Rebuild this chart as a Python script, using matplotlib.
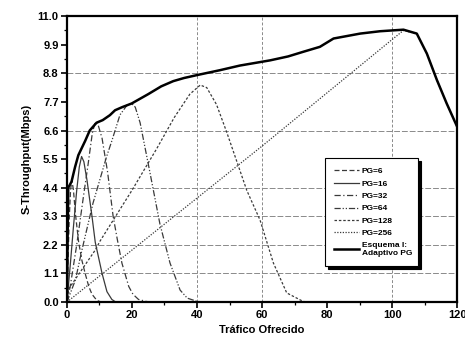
import numpy as np
import matplotlib
matplotlib.use("Agg")
import matplotlib.pyplot as plt
from matplotlib.ticker import MultipleLocator, FixedLocator

plt.rcParams["font.family"] = ["Liberation Sans", "DejaVu Sans"]

# (offered traffic, throughput in Mbps)
PG6_X = [0, 0.3, 0.7, 1.1, 1.5, 2.0, 2.6, 3.6, 4.6, 5.6, 6.7, 7.7, 8.7, 9.5, 10.5]
PG6_Y = [0, 1.5, 3.2, 4.3, 4.7, 4.3, 3.4, 2.3, 1.6, 1.1, 0.6, 0.3, 0.14, 0.05, 0]

PG16_X = [0, 1.0, 2.0, 3.0, 3.8, 4.5, 5.2, 6.15, 7.7, 8.7, 10.8, 12.3, 13.8, 15.0]
PG16_Y = [0, 1.4, 2.9, 4.3, 5.2, 5.6, 5.4, 4.7, 3.3, 2.3, 1.1, 0.4, 0.1, 0]

PG32_X = [0, 1.0, 3.0, 5.0, 6.5, 7.8, 8.7, 9.5, 10.8, 12.5, 14.2, 15.5, 16.9, 19.0, 20.3, 22.0, 24.5, 26.0]
PG32_Y = [0, 0.6, 2.2, 4.0, 5.3, 6.5, 6.93, 6.85, 6.3, 5.0, 3.3, 2.4, 1.5, 0.6, 0.3, 0.1, 0.02, 0]

PG64_X = [0, 2.6, 4.6, 8.0, 12.2, 13.8, 16.3, 18.5, 19.9, 21.0, 22.5, 25.5, 28.6, 31.7, 34.8, 37.0, 39.9, 42.0]
PG64_Y = [0, 0.85, 2.0, 3.8, 5.6, 6.2, 7.2, 7.58, 7.64, 7.5, 6.9, 5.0, 3.0, 1.5, 0.46, 0.15, 0.03, 0]

PG128_X = [0, 0.5, 8.7, 10.2, 20.0, 27.6, 33.0, 37.8, 41.0, 43.0, 46.0, 49.1, 55.3, 59.4, 63.5, 67.6, 72.7, 75.0]
PG128_Y = [0, 0.5, 2.0, 2.35, 4.3, 5.9, 7.1, 8.0, 8.35, 8.25, 7.6, 6.55, 4.3, 3.15, 1.5, 0.35, 0.02, 0]

PG256_X = [0, 20, 40, 60, 80, 100, 103.5, 107.6, 110.7, 113.8, 116.8, 120]
PG256_Y = [0, 2.0, 4.0, 6.0, 8.05, 10.1, 10.45, 10.33, 9.56, 8.54, 7.64, 6.75]

ADAPT_X = [0, 0.2, 0.4, 1.4, 2.5, 3.5, 5.6, 7.0, 9.1, 11.0, 13.2, 14.8, 17.0, 19.9, 25.0,
           29.0, 32.7, 36.0, 39.9, 47.0, 53.2, 62.5, 68.0, 72.7, 77.8, 82.0, 90.2, 96.3, 103.5,
           107.6, 110.7, 113.8, 116.8, 120]
ADAPT_Y = [0, 2.5, 4.4, 4.63, 5.2, 5.65, 6.2, 6.6, 6.9, 7.0, 7.19, 7.38, 7.5, 7.64, 8.0,
           8.3, 8.5, 8.62, 8.73, 8.92, 9.1, 9.3, 9.45, 9.63, 9.82, 10.14, 10.33, 10.42, 10.48,
           10.33, 9.56, 8.54, 7.64, 6.75]

Y_TICKS = [0.0, 1.1, 2.2, 3.3, 4.4, 5.5, 6.6, 7.7, 8.8, 9.9, 11.0]
X_TICKS = [0, 20, 40, 60, 80, 100, 120]
H_GRID = [1.1, 2.2, 3.3, 4.4, 6.6, 8.8]
V_GRID = [40, 60, 100]

SERIES = [
    ("PG=6", PG6_X, PG6_Y, (0, (4, 2))),
    ("PG=16", PG16_X, PG16_Y, "-"),
    ("PG=32", PG32_X, PG32_Y, (0, (5, 2, 1, 2))),
    ("PG=64", PG64_X, PG64_Y, (0, (5, 1.5, 1, 1.5, 1, 1.5))),
    ("PG=128", PG128_X, PG128_Y, (0, (2, 1.5))),
    ("PG=256", PG256_X, PG256_Y, (0, (1, 1.2))),
]


def main():
    fig = plt.figure(figsize=(4.65, 3.44), dpi=100)
    ax = fig.add_axes([0.144, 0.122, 0.839, 0.831])

    for y in H_GRID:
        ax.axhline(y, color="#8a8a8a", lw=0.7, ls=(0, (6, 2)), zorder=0)
    for x in V_GRID:
        ax.axvline(x, color="#8a8a8a", lw=0.7, ls=(0, (3, 2)), zorder=0)

    for name, xs, ys, style in SERIES:
        ax.plot(xs, ys, color="#3a3a3a", lw=0.9, ls=style, label=name)
    ax.plot(ADAPT_X, ADAPT_Y, color="black", lw=1.8, label="Esquema I:\nAdaptivo PG")

    ax.set_xlim(0, 120)
    ax.set_ylim(0, 11.0)
    ax.xaxis.set_major_locator(FixedLocator(X_TICKS))
    ax.xaxis.set_minor_locator(MultipleLocator(10))
    ax.yaxis.set_major_locator(FixedLocator(Y_TICKS))
    ax.yaxis.set_minor_locator(MultipleLocator(0.55))
    ax.set_yticklabels([f"{v:.1f}" for v in Y_TICKS])

    ax.tick_params(which="major", direction="out", length=4, width=1.2, labelsize=8, pad=2)
    ax.tick_params(which="minor", direction="out", length=2, width=0.9)
    for lab in ax.get_xticklabels() + ax.get_yticklabels():
        lab.set_fontweight("bold")
    for sp in ax.spines.values():
        sp.set_linewidth(1.6)

    ax.set_xlabel("Tráfico Ofrecido", fontsize=8, fontweight="bold", labelpad=3)
    ax.set_ylabel("S-Throughput(Mbps)", fontsize=8, fontweight="bold", labelpad=4)

    # legend box: left edge at x~325 px, top at y~158 px, about 93 px wide
    leg = ax.legend(loc="upper left", bbox_to_anchor=(0.662, 0.503, 0.238, 0.0),
                    mode="expand", borderaxespad=0, borderpad=1.1,
                    fontsize=6, handlelength=3.0, handletextpad=0.3,
                    labelspacing=0.55, fancybox=False, framealpha=1,
                    edgecolor="black", shadow={"color": "black", "alpha": 1})
    leg.get_frame().set_linewidth(0.8)
    for t in leg.get_texts():
        t.set_fontweight("bold")

    fig.savefig("out.png", dpi=100)


if __name__ == "__main__":
    main()
